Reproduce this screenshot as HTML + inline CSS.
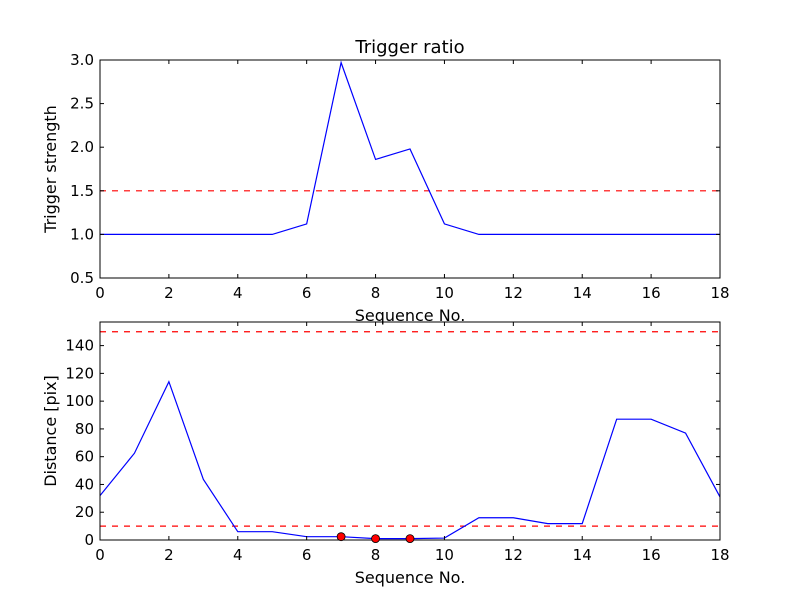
<!DOCTYPE html>
<html><head><meta charset="utf-8"><style>
body{margin:0;background:#fff}
svg{display:block;font-family:"DejaVu Sans","Liberation Sans",sans-serif}
</style></head><body>
<svg id="c" width="800" height="600"></svg>
<script>
const xs = [0,1,2,3,4,5,6,7,8,9,10,11,12,13,14,15,16,17,18];
const ratio = [1,1,1,1,1,1,1.12,2.97,1.86,1.98,1.12,1,1,1,1,1,1,1,1];
const dist = [32,62.5,114,43.7,6,6,2.4,2.4,1,1,1.4,16,16,11.8,11.8,87,87,77,31];
const trigX = [7,8,9];
const trigY = [2.4,1,1];
const xTicks = [0,2,4,6,8,10,12,14,16,18];
const yTicksTop = [0.5,1.0,1.5,2.0,2.5,3.0];
const yTicksBot = [0,20,40,60,80,100,120,140];
const thrTop = [1.5];
const thrBot = [10,150];

const NS="http://www.w3.org/2000/svg", svg=document.getElementById('c');
function mk(t,a,txt){const e=document.createElementNS(NS,t);for(const k in a)e.setAttribute(k,a[k]);if(txt!=null)e.textContent=txt;svg.appendChild(e);return e;}
function panel(name,top,bot,ymin,ymax,yt,fmt,ys,thr,title,ylab){
  const L=100,R=720;
  const sx=v=>L+(v-0)/(18-0)*(R-L);
  const sy=v=>bot-(v-ymin)/(ymax-ymin)*(bot-top);
  if(title){const t=mk('text',{x:410,y:top-7,'text-anchor':'middle','font-size':18},title);}
  thr.forEach(v=>{const l=mk('line',{x1:L,x2:R,y1:sy(v),y2:sy(v),stroke:'#f00','stroke-width':1.2,'stroke-dasharray':'6,6'});});
  const p=mk('polyline',{points:xs.map((x,i)=>sx(x)+','+sy(ys[i])).join(' '),fill:'none',stroke:'#00f','stroke-width':1.2});
  
  xTicks.forEach(v=>{const x=sx(v);mk('line',{x1:x,x2:x,y1:bot,y2:bot-4,stroke:'#000'});mk('line',{x1:x,x2:x,y1:top,y2:top+4,stroke:'#000'});
    const t=mk('text',{x:x,y:bot+20,'text-anchor':'middle','font-size':15},v);});
  yt.forEach(v=>{const y=sy(v);mk('line',{x1:L,x2:L+4,y1:y,y2:y,stroke:'#000'});mk('line',{x1:R,x2:R-4,y1:y,y2:y,stroke:'#000'});
    const t=mk('text',{x:L-6,y:y+5,'text-anchor':'end','font-size':15},fmt(v));});
  const r=mk('rect',{x:L,y:top,width:R-L,height:bot-top,fill:'none',stroke:'#000','stroke-width':1});
  
  const xl=mk('text',{x:410,y:bot+43,'text-anchor':'middle','font-size':16},'Sequence No.');
  const yl=mk('text',{x:0,y:0,'text-anchor':'middle','font-size':16,transform:`translate(56,${(top+bot)/2}) rotate(-90)`},ylab);
  return {sx,sy};
}
panel('top-chart',60,278,0.5,3.0,yTicksTop,v=>v.toFixed(1),ratio,thrTop,'Trigger ratio','Trigger strength');
const b=panel('bottom-chart',322,540,0,157,yTicksBot,v=>v,dist,thrBot,null,'Distance [pix]');
trigX.forEach((x,i)=>{const c=mk('circle',{cx:b.sx(x),cy:b.sy(trigY[i]),r:4,fill:'#f00',stroke:'#000','stroke-width':0.8});
  
  });
</script>
</body></html>
